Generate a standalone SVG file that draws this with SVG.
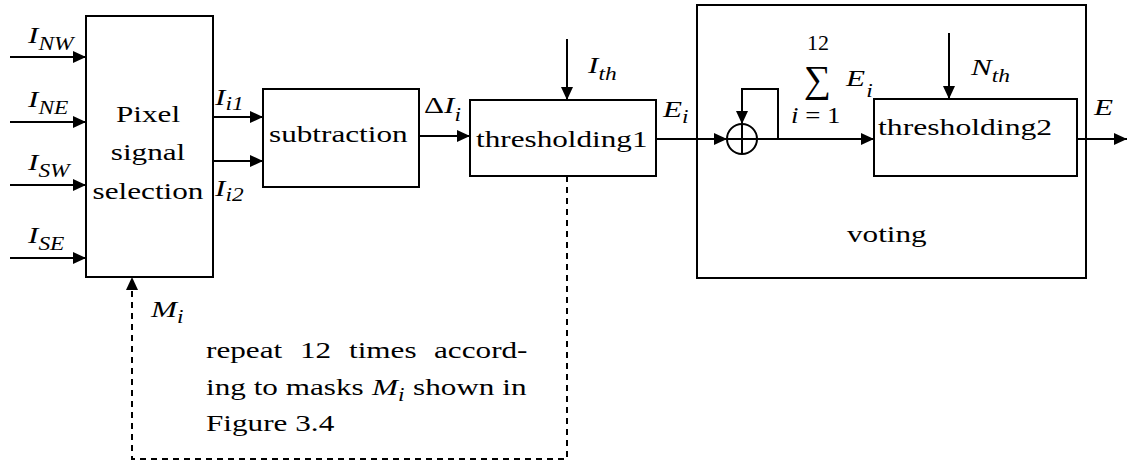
<svg xmlns="http://www.w3.org/2000/svg" width="1129" height="465" viewBox="0 0 1129 465">
  <style>
    .box { fill: none; stroke: #000; stroke-width: 2; }
    .ln { fill: none; stroke: #000; stroke-width: 2; }
    .dash { fill: none; stroke: #000; stroke-width: 2; stroke-dasharray: 6 5; }
    .it { font-style: italic; }
    .sub { font-size: 18px; font-style: italic; }
  </style>
  <defs>
    <marker id="arr" markerUnits="userSpaceOnUse" markerWidth="13" markerHeight="12" refX="13" refY="6" orient="auto">
      <path d="M0,0 L13,6 L0,12 z" fill="#000"/>
    </marker>
  </defs>

  <!-- Pixel signal selection block -->
  <g id="pixel-selection">
    <rect class="box" x="86" y="16" width="127" height="261"/>
    <text font-family="Liberation Serif" font-size="24" transform="translate(148,122) scale(1.3,1)" text-anchor="middle">Pixel</text>
    <text font-family="Liberation Serif" font-size="24" transform="translate(148,160) scale(1.3,1)" text-anchor="middle">signal</text>
    <text font-family="Liberation Serif" font-size="24" transform="translate(148,199) scale(1.3,1)" text-anchor="middle">selection</text>
  </g>

  <!-- subtraction block -->
  <g id="subtraction">
    <rect class="box" x="263" y="89" width="156" height="98"/>
    <text font-family="Liberation Serif" font-size="24" transform="translate(269,142) scale(1.3,1)">subtraction</text>
  </g>

  <!-- thresholding1 block -->
  <g id="thresholding1">
    <rect class="box" x="470" y="100" width="186" height="76"/>
    <text font-family="Liberation Serif" font-size="24" transform="translate(476,147) scale(1.3,1)">thresholding1</text>
  </g>

  <!-- voting block with accumulator and thresholding2 -->
  <g id="voting">
    <rect class="box" x="697" y="5" width="389" height="273"/>
    <text font-family="Liberation Serif" font-size="24" transform="translate(847,242) scale(1.3,1)">voting</text>
  </g>

  <g id="accumulator">
    <circle class="ln" cx="742" cy="139" r="15"/>
    <line class="ln" x1="727" y1="139" x2="757" y2="139"/>
    <line class="ln" x1="742" y1="124" x2="742" y2="154"/>
  </g>

  <g id="thresholding2">
    <rect class="box" x="874" y="99" width="203" height="77"/>
    <text font-family="Liberation Serif" font-size="24" transform="translate(878,135) scale(1.32,1)">thresholding2</text>
  </g>

  <!-- sum expression -->
  <g id="sum-label">
    <text font-family="Liberation Serif" font-size="22" x="807" y="50">12</text>
    <text font-family="Liberation Serif" font-size="38" x="804" y="92">∑</text>
    <text font-family="Liberation Serif" font-size="24" transform="translate(846,86) scale(1.3,1)" class="it">E<tspan class="sub" dy="11" dx="1">i</tspan></text>
    <text font-family="Liberation Serif" font-size="24" transform="translate(791,123) scale(1.12,1)"><tspan class="it">i</tspan> = 1</text>
  </g>

  <!-- connectors -->
  <g id="connectors">
    <line class="ln" x1="10" y1="57" x2="86" y2="57" marker-end="url(#arr)"/>
    <line class="ln" x1="10" y1="122" x2="86" y2="122" marker-end="url(#arr)"/>
    <line class="ln" x1="10" y1="185" x2="86" y2="185" marker-end="url(#arr)"/>
    <line class="ln" x1="10" y1="258" x2="86" y2="258" marker-end="url(#arr)"/>
    <line class="ln" x1="213" y1="117" x2="263" y2="117" marker-end="url(#arr)"/>
    <line class="ln" x1="213" y1="161" x2="263" y2="161" marker-end="url(#arr)"/>
    <line class="ln" x1="419" y1="136" x2="470" y2="136" marker-end="url(#arr)"/>
    <line class="ln" x1="567" y1="39" x2="567" y2="100" marker-end="url(#arr)"/>
    <line class="ln" x1="656" y1="139" x2="727" y2="139" marker-end="url(#arr)"/>
    <polyline class="ln" points="757,139 778,139 778,89 742,89 742,124" marker-end="url(#arr)"/>
    <line class="ln" x1="778" y1="139" x2="874" y2="139" marker-end="url(#arr)"/>
    <line class="ln" x1="949" y1="33" x2="949" y2="99" marker-end="url(#arr)"/>
    <line class="ln" x1="1077" y1="139" x2="1127" y2="139" marker-end="url(#arr)"/>
    <polyline class="dash" points="567,176 567,459 132,459 132,277" marker-end="url(#arr)"/>
  </g>

  <!-- signal labels -->
  <g id="labels">
    <text font-family="Liberation Serif" font-size="24" transform="translate(28,43) scale(1.3,1)" class="it">I<tspan class="sub" dy="7">NW</tspan></text>
    <text font-family="Liberation Serif" font-size="24" transform="translate(28,107) scale(1.3,1)" class="it">I<tspan class="sub" dy="7">NE</tspan></text>
    <text font-family="Liberation Serif" font-size="24" transform="translate(28,170) scale(1.3,1)" class="it">I<tspan class="sub" dy="7">SW</tspan></text>
    <text font-family="Liberation Serif" font-size="24" transform="translate(28,243) scale(1.3,1)" class="it">I<tspan class="sub" dy="7">SE</tspan></text>
    <text font-family="Liberation Serif" font-size="24" transform="translate(215,105) scale(1.3,1)" class="it">I<tspan class="sub" dy="5">i1</tspan></text>
    <text font-family="Liberation Serif" font-size="24" transform="translate(215,196) scale(1.3,1)" class="it">I<tspan class="sub" dy="5">i2</tspan></text>
    <text font-family="Liberation Serif" font-size="24" transform="translate(424,113) scale(1.3,1)">Δ<tspan class="it">I</tspan><tspan class="sub" dy="8">i</tspan></text>
    <text font-family="Liberation Serif" font-size="24" transform="translate(588,73) scale(1.3,1)" class="it">I<tspan class="sub" dy="7">th</tspan></text>
    <text font-family="Liberation Serif" font-size="24" transform="translate(663,117) scale(1.3,1)" class="it">E<tspan class="sub" dy="6">i</tspan></text>
    <text font-family="Liberation Serif" font-size="24" transform="translate(971,75) scale(1.3,1)" class="it">N<tspan class="sub" dy="7">th</tspan></text>
    <text font-family="Liberation Serif" font-size="24" transform="translate(1094,115) scale(1.3,1)" class="it">E</text>
    <text font-family="Liberation Serif" font-size="24" transform="translate(151,317) scale(1.3,1)" class="it">M<tspan class="sub" dy="6">i</tspan></text>
  </g>

  <!-- note beside the repeat loop, set justified -->
  <g id="note">
    <text font-family="Liberation Serif" font-size="24" transform="translate(206,358) scale(1.3,1)">repeat</text>
    <text font-family="Liberation Serif" font-size="24" transform="translate(300,358) scale(1.3,1)">12</text>
    <text font-family="Liberation Serif" font-size="24" transform="translate(349,358) scale(1.3,1)">times</text>
    <text font-family="Liberation Serif" font-size="24" transform="translate(434,358) scale(1.3,1)">accord-</text>
    <text font-family="Liberation Serif" font-size="24" transform="translate(206,395) scale(1.3,1)">ing to masks</text>
    <text font-family="Liberation Serif" font-size="24" transform="translate(372,395) scale(1.3,1)" class="it">M<tspan class="sub" dy="6">i</tspan></text>
    <text font-family="Liberation Serif" font-size="24" transform="translate(413,395) scale(1.3,1)">shown in</text>
    <text font-family="Liberation Serif" font-size="24" transform="translate(206,431) scale(1.3,1)">Figure 3.4</text>
  </g>
</svg>
